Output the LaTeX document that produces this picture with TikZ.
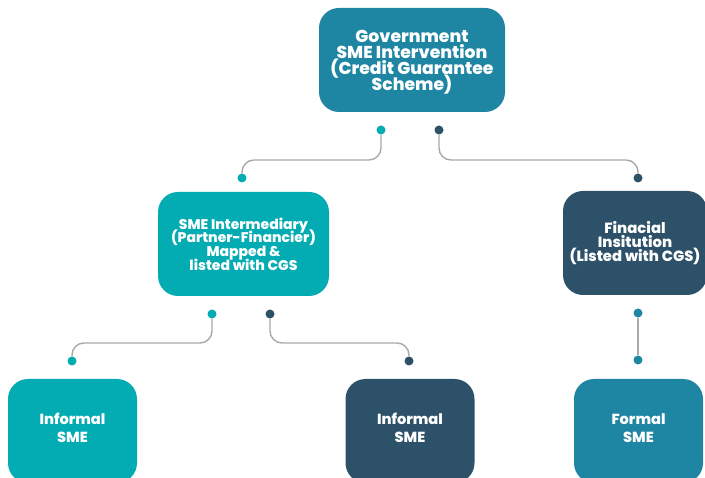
\documentclass[tikz,border=0pt]{standalone}
\usepackage{fontspec}
\setmainfont{Poppins}[BoldFont={Poppins ExtraBold}]
\usepackage{xcolor}
\definecolor{cgsblue}{HTML}{1E86A3}
\definecolor{cgsteal}{HTML}{03ABB3}
\definecolor{cgsnavy}{HTML}{2C5169}
\definecolor{linkgrey}{HTML}{A9A9A9}
% tight leading inside the boxes
\newcommand{\boxfont}[2]{\bfseries\fontsize{#1}{#2}\selectfont\lineskiplimit=-20pt\lineskip=0pt}
\tikzstyle{box} = [rounded corners=20pt, text=white, align=center, minimum height=104pt, inner sep=0pt]
\tikzstyle{leaf} = [box, minimum width=129pt, font=\boxfont{14.6}{18}, text depth=6pt]
\tikzstyle{dot} = [circle, minimum size=9pt, inner sep=0pt]
\tikzstyle{link} = [draw=linkgrey, line width=1.4pt, rounded corners=12pt]

\begin{document}
\begin{tikzpicture}[x=1pt, y=-1pt]
    \clip (0,0) rectangle (705,478);
    % boxes
    \node[box, fill=cgsblue, minimum width=186pt, font=\boxfont{17.2}{16}, text depth=-2pt] (gov) at (412,60) {Government\\SME Intervention\\(Credit Guarantee\\Scheme)};
    \node[box, fill=cgsteal, minimum width=171pt, font=\boxfont{14}{13.7}] (inter) at (243.5,244) {SME Intermediary\\(Partner-Financier)\\Mapped \&\\listed with CGS};
    \node[box, fill=cgsnavy, minimum width=144pt, font=\boxfont{14.8}{14}] (fin) at (635,243) {Finacial\\Insitution\\(Listed with CGS)};
    \node[leaf, fill=cgsteal] (infA) at (72.5,431) {Informal\\SME};
    \node[leaf, fill=cgsnavy] (infB) at (410,431) {Informal\\SME};
    \node[leaf, fill=cgsblue] (formal) at (638.5,431) {Formal\\SME};

    % end dots
    \node[dot, fill=cgsteal] (g1) at (381,130) {};
    \node[dot, fill=cgsnavy] (g2) at (439,130) {};
    \node[dot, fill=cgsteal] (i0) at (242,178) {};
    \node[dot, fill=cgsnavy] (f0) at (638,178) {};
    \node[dot, fill=cgsteal] (i1) at (212,314) {};
    \node[dot, fill=cgsnavy] (i2) at (270,314) {};
    \node[dot, fill=cgsteal] (a0) at (72,361) {};
    \node[dot, fill=cgsnavy] (b0) at (409,361) {};
    \node[dot, fill=cgsblue] (f1) at (638,313) {};
    \node[dot, fill=cgsblue] (s0) at (638,360) {};

    % connectors
    \draw[link] (g1) -- (g1 |- 0,160) -- (i0 |- 0,160) -- (i0);
    \draw[link] (g2) -- (g2 |- 0,160) -- (f0 |- 0,160) -- (f0);
    \draw[link] (i1) -- (i1 |- 0,343) -- (a0 |- 0,343) -- (a0);
    \draw[link] (i2) -- (i2 |- 0,343) -- (b0 |- 0,343) -- (b0);
    \draw[link] (f1) -- (s0);
\end{tikzpicture}
\end{document}
